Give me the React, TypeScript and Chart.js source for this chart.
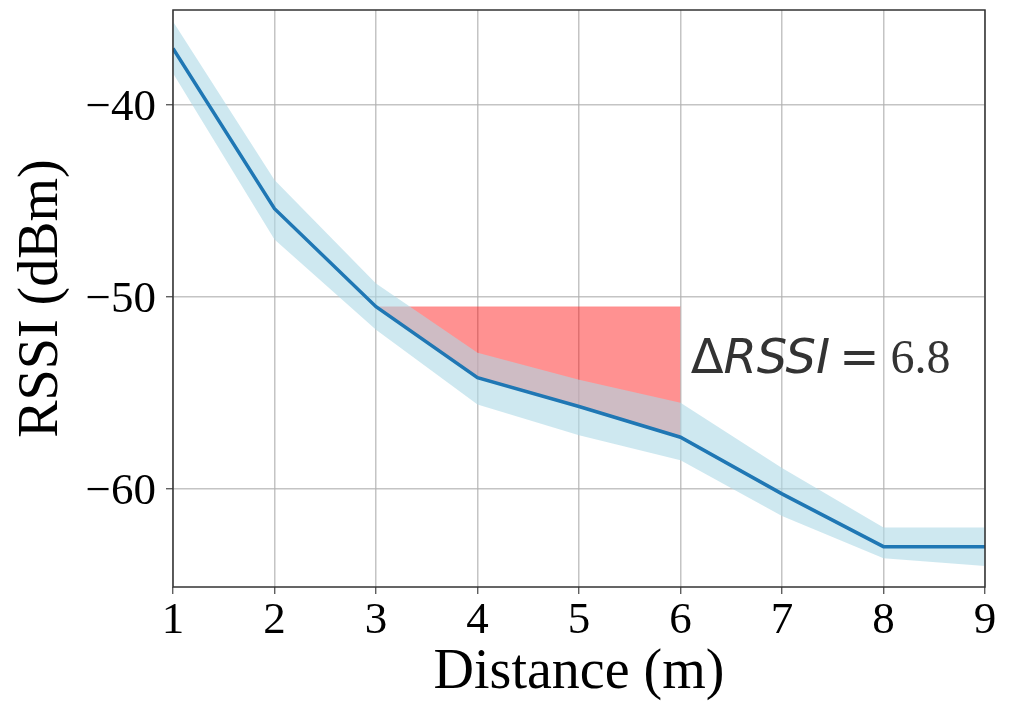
import React, { useEffect, useRef } from 'react';
import { Chart, registerables } from 'chart.js';

Chart.register(...registerables);

const distances = [1, 2, 3, 4, 5, 6, 7, 8, 9];
const rssiMean = [-37.05, -45.4, -50.5, -54.2, -55.7, -57.3, -60.25, -63.0, -63.0];
const rssiUpper = [-35.65, -43.9, -49.3, -52.9, -54.3, -55.5, -58.9, -62.0, -62.0];
const rssiLower = [-38.35, -47.0, -51.7, -55.6, -57.2, -58.5, -61.4, -63.6, -64.0];
const yTicks = [-60, -50, -40];
const deltaStartIndex = 2; // distance 3 m
const deltaEndIndex = 5; // distance 6 m
const deltaValueText = '6.8';
const annotationX = 6.1;
const annotationY = -53.95;

const SERIF = '"Liberation Serif", "Times New Roman", serif';
const SANS = '"DejaVu Sans", sans-serif';

const toPoints = (xs: number[], ys: number[]) => xs.map((x, i) => ({ x, y: ys[i] }));

const framePlugin = {
  id: 'frameAndAnnotation',
  afterDatasetsDraw(chart: any) {
    const { ctx, chartArea: a, scales } = chart;
    ctx.save();
    const x0 = scales.x.getPixelForValue(annotationX);
    const y0 = scales.y.getPixelForValue(annotationY);
    ctx.fillStyle = '#333333';
    ctx.textBaseline = 'alphabetic';
    ctx.textAlign = 'left';
    let cx = x0;
    ctx.font = `48px ${SANS}`;
    ctx.fillText('Δ', cx, y0);
    cx += ctx.measureText('Δ').width;
    ctx.font = `italic 48px ${SANS}`;
    ctx.fillText('RSSI', cx, y0);
    cx += ctx.measureText('RSSI').width + 9;
    ctx.font = `48px ${SANS}`;
    ctx.fillText('=', cx, y0);
    cx += ctx.measureText('=').width + 11;
    ctx.font = `48px ${SERIF}`;
    ctx.fillText(deltaValueText, cx, y0);

    ctx.strokeStyle = '#333333';
    ctx.lineWidth = 1.5;
    ctx.strokeRect(a.left, a.top, a.right - a.left, a.bottom - a.top);
    ctx.restore();
  },
};

export default function App() {
  const canvasRef = useRef<HTMLCanvasElement | null>(null);

  useEffect(() => {
    if (!canvasRef.current) return;
    const refLevel = rssiMean[deltaStartIndex];
    const segX = distances.slice(deltaStartIndex, deltaEndIndex + 1);
    const segMean = rssiMean.slice(deltaStartIndex, deltaEndIndex + 1);
    const segTop = segX.map(() => refLevel);

    const chart = new Chart(canvasRef.current, {
      type: 'line',
      data: {
        datasets: [
          {
            data: toPoints(distances, rssiMean),
            borderColor: '#1f77b4',
            borderWidth: 3.5,
            pointRadius: 0,
            fill: false,
            order: 0,
          },
          {
            data: toPoints(distances, rssiUpper),
            borderWidth: 0,
            borderColor: 'rgba(0,0,0,0)',
            backgroundColor: 'rgba(173,216,230,0.6)',
            pointRadius: 0,
            fill: { target: 2 },
            order: 1,
          },
          {
            data: toPoints(distances, rssiLower),
            borderWidth: 0,
            borderColor: 'rgba(0,0,0,0)',
            pointRadius: 0,
            fill: false,
            order: 1,
          },
          {
            data: toPoints(segX, segTop),
            borderWidth: 1,
            borderColor: 'rgba(255,0,0,0.15)',
            backgroundColor: 'rgba(255,0,0,0.43)',
            pointRadius: 0,
            fill: { target: 4 },
            order: 2,
          },
          {
            data: toPoints(segX, segMean),
            borderWidth: 0,
            borderColor: 'rgba(0,0,0,0)',
            pointRadius: 0,
            fill: false,
            order: 2,
          },
        ],
      },
      options: {
        animation: false,
        responsive: true,
        maintainAspectRatio: false,
        layout: { padding: { left: 0, right: 24, top: 10, bottom: 0 } },
        plugins: {
          legend: { display: false },
          tooltip: { enabled: false },
        },
        elements: { line: { tension: 0 } },
        scales: {
          x: {
            type: 'linear',
            min: 1,
            max: 9,
            ticks: {
              stepSize: 1,
              color: '#000000',
              padding: 0,
              font: { family: SERIF, size: 45 },
            },
            grid: {
              color: 'rgba(176,176,176,0.75)',
              lineWidth: 1.5,
              tickLength: 7,
              tickColor: '#444444',
              tickWidth: 1.2,
            },
            border: { display: false },
            title: {
              display: true,
              text: 'Distance (m)',
              color: '#000000',
              font: { family: SERIF, size: 56, lineHeight: 1 },
              padding: { top: 0, bottom: 4 },
            },
            afterFit: (s: any) => {
              s.height = 118;
              s.paddingLeft = 0;
              s.paddingRight = 0;
            },
          },
          y: {
            type: 'linear',
            min: -65.1,
            max: -35.05,
            afterBuildTicks: (s: any) => {
              s.ticks = yTicks.map((v) => ({ value: v }));
            },
            ticks: {
              color: '#000000',
              padding: 10,
              labelOffset: 3,
              font: { family: SERIF, size: 45 },
              callback: (v: any) => String(v).replace('-', '\u2212'),
            },
            grid: {
              color: 'rgba(176,176,176,0.75)',
              lineWidth: 1.5,
              tickLength: 7,
              tickColor: '#444444',
              tickWidth: 1.2,
            },
            border: { display: false },
            title: {
              display: true,
              text: 'RSSI (dBm)',
              color: '#000000',
              font: { family: SERIF, size: 56, lineHeight: 1 },
              padding: { top: 14, bottom: 0 },
            },
            afterFit: (s: any) => {
              s.width = 173;
              s.paddingTop = 0;
              s.paddingBottom = 0;
            },
          },
        },
      },
      plugins: [framePlugin],
    });
    return () => chart.destroy();
  }, []);

  return (
    <div style={{ position: 'fixed', left: 0, top: 0, width: 1009, height: 705, background: '#ffffff' }}>
      <canvas ref={canvasRef} />
    </div>
  );
}
